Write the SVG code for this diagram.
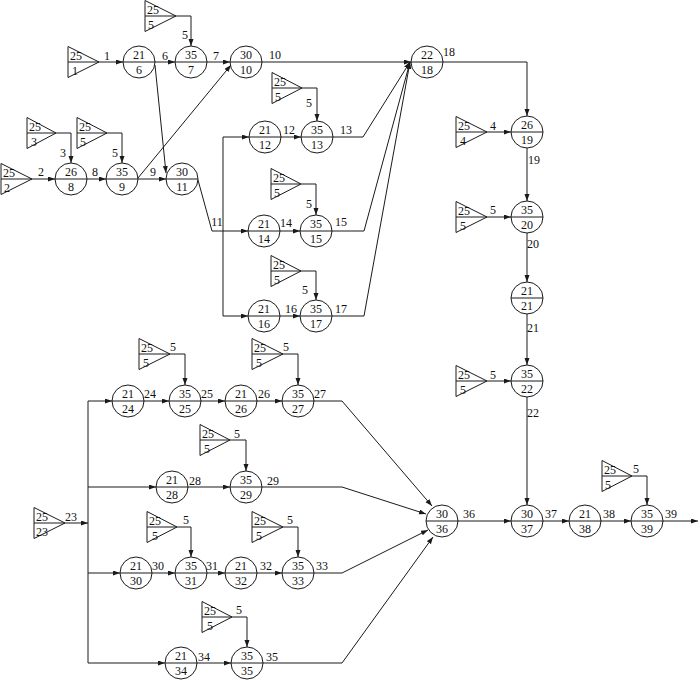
<svg xmlns="http://www.w3.org/2000/svg" width="700" height="680" viewBox="0 0 700 680">
<style>
.bg{fill:#fff}
.c{fill:#fff;stroke:#1a1a1a;stroke-width:1}
.d{stroke:#1a1a1a;stroke-width:1;fill:none}
.t{fill:#fff;stroke:#1a1a1a;stroke-width:1}
.ln{stroke:#1a1a1a;stroke-width:1;fill:none}
.arr{marker-end:url(#ah)}
text{font-family:"Liberation Serif","Times New Roman",serif;font-size:12px;fill:#111}
.m{text-anchor:middle}
</style>
<defs>
<marker id="ah" markerUnits="userSpaceOnUse" markerWidth="8" markerHeight="6" refX="7" refY="2.5" orient="auto">
<path d="M0,0 L7,2.5 L0,5 z" fill="#1a1a1a"/>
</marker>
</defs>
<rect class="bg" x="0" y="0" width="700" height="680"/>

<g id="connectors">
<!-- top row -->
<line class="ln arr" x1="99" y1="62" x2="123" y2="62"/>
<line class="ln arr" x1="155" y1="62" x2="175" y2="62"/>
<line class="ln arr" x1="207" y1="62" x2="230" y2="62"/>
<line class="ln arr" x1="262" y1="62" x2="411" y2="62"/>
<polyline class="ln arr" points="176,16 191,16 191,46"/>
<polyline class="ln arr" points="443,62 527,62 527,116"/>
<line class="ln arr" x1="155" y1="65" x2="166" y2="173"/>
<!-- second row -->
<line class="ln arr" x1="32" y1="179" x2="55" y2="179"/>
<polyline class="ln arr" points="56,133 71,133 71,163"/>
<line class="ln arr" x1="87" y1="179" x2="106" y2="179"/>
<polyline class="ln arr" points="107,133 122,133 122,163"/>
<line class="ln arr" x1="138" y1="179" x2="166" y2="179"/>
<line class="ln arr" x1="138" y1="178" x2="231" y2="65"/>
<polyline class="ln arr" points="198,180 212,231 248,231"/>
<line class="ln" x1="223" y1="137" x2="223" y2="316"/>
<line class="ln arr" x1="223" y1="137" x2="249" y2="137"/>
<line class="ln arr" x1="223" y1="316" x2="248" y2="316"/>
<line class="ln arr" x1="281" y1="137" x2="301" y2="137"/>
<polyline class="ln arr" points="302,88 317,88 317,121"/>
<polyline class="ln arr" points="333,137 363,137 410,62"/>
<line class="ln arr" x1="280" y1="231" x2="300" y2="231"/>
<polyline class="ln arr" points="301,184 316,184 316,215"/>
<polyline class="ln arr" points="332,231 364,231 410,62"/>
<line class="ln arr" x1="280" y1="316" x2="300" y2="316"/>
<polyline class="ln arr" points="301,271 316,271 316,300"/>
<polyline class="ln arr" points="332,316 364,316 410,62"/>
<!-- right column -->
<line class="ln arr" x1="487" y1="132" x2="511" y2="132"/>
<line class="ln arr" x1="527" y1="148" x2="527" y2="201"/>
<line class="ln arr" x1="487" y1="217" x2="511" y2="217"/>
<line class="ln arr" x1="527" y1="233" x2="527" y2="282"/>
<line class="ln arr" x1="527" y1="314" x2="527" y2="365"/>
<line class="ln arr" x1="487" y1="381" x2="511" y2="381"/>
<line class="ln arr" x1="527" y1="397" x2="527" y2="505"/>
<line class="ln arr" x1="458" y1="521" x2="511" y2="521"/>
<line class="ln arr" x1="543" y1="521" x2="569" y2="521"/>
<line class="ln arr" x1="601" y1="521" x2="631" y2="521"/>
<polyline class="ln arr" points="632,476 647,476 647,505"/>
<line class="ln arr" x1="663" y1="521" x2="698" y2="521"/>
<!-- bottom block -->
<line class="ln arr" x1="65" y1="523" x2="88" y2="523"/>
<line class="ln" x1="88" y1="401" x2="88" y2="663"/>
<line class="ln arr" x1="88" y1="401" x2="112" y2="401"/>
<line class="ln arr" x1="88" y1="487" x2="156" y2="487"/>
<line class="ln arr" x1="88" y1="573" x2="120" y2="573"/>
<line class="ln arr" x1="88" y1="663" x2="165" y2="663"/>
<line class="ln arr" x1="144" y1="401" x2="169" y2="401"/>
<polyline class="ln arr" points="170,354 185,354 185,385"/>
<line class="ln arr" x1="201" y1="401" x2="225" y2="401"/>
<line class="ln arr" x1="257" y1="401" x2="282" y2="401"/>
<polyline class="ln arr" points="283,354 298,354 298,385"/>
<polyline class="ln arr" points="314,401 342,401 432,506"/>
<line class="ln arr" x1="188" y1="487" x2="230" y2="487"/>
<polyline class="ln arr" points="230,440 246,440 246,471"/>
<polyline class="ln arr" points="262,487 342,487 426,514"/>
<line class="ln arr" x1="152" y1="573" x2="175" y2="573"/>
<polyline class="ln arr" points="177,527 191,527 191,557"/>
<line class="ln arr" x1="207" y1="573" x2="225" y2="573"/>
<line class="ln arr" x1="257" y1="573" x2="282" y2="573"/>
<polyline class="ln arr" points="283,527 298,527 298,557"/>
<polyline class="ln arr" points="314,573 342,573 428,530"/>
<line class="ln arr" x1="197" y1="663" x2="231" y2="663"/>
<polyline class="ln arr" points="232,617 247,617 247,647"/>
<polyline class="ln arr" points="263,663 342,663 433,537"/>
<!-- labels -->
<text class="m" x="107" y="60">1</text>
<text class="m" x="165" y="60">6</text>
<text class="m" x="216" y="60">7</text>
<text class="m" x="185" y="39">5</text>
<text class="m" x="275" y="59">10</text>
<text class="m" x="449" y="56">18</text>
<text class="m" x="41" y="176">2</text>
<text class="m" x="63" y="157">3</text>
<text class="m" x="95" y="176">8</text>
<text class="m" x="115" y="157">5</text>
<text class="m" x="153" y="176">9</text>
<text class="m" x="217" y="226">11</text>
<text class="m" x="289" y="134">12</text>
<text class="m" x="309" y="107">5</text>
<text class="m" x="346" y="134">13</text>
<text class="m" x="286" y="227">14</text>
<text class="m" x="309" y="208">5</text>
<text class="m" x="341" y="226">15</text>
<text class="m" x="291" y="313">16</text>
<text class="m" x="305" y="294">5</text>
<text class="m" x="341" y="313">17</text>
<text class="m" x="493" y="130">4</text>
<text class="m" x="534" y="164">19</text>
<text class="m" x="493" y="214">5</text>
<text class="m" x="533" y="248">20</text>
<text class="m" x="533" y="332">21</text>
<text class="m" x="493" y="379">5</text>
<text class="m" x="533" y="417">22</text>
<text class="m" x="469" y="518">36</text>
<text class="m" x="551" y="518">37</text>
<text class="m" x="609" y="518">38</text>
<text class="m" x="636" y="473">5</text>
<text class="m" x="671" y="518">39</text>
<text class="m" x="71" y="521">23</text>
<text class="m" x="150" y="398">24</text>
<text class="m" x="173" y="351">5</text>
<text class="m" x="207" y="398">25</text>
<text class="m" x="264" y="398">26</text>
<text class="m" x="286" y="351">5</text>
<text class="m" x="320" y="398">27</text>
<text class="m" x="195" y="485">28</text>
<text class="m" x="237" y="438">5</text>
<text class="m" x="273" y="485">29</text>
<text class="m" x="158" y="570">30</text>
<text class="m" x="186" y="524">5</text>
<text class="m" x="212" y="570">31</text>
<text class="m" x="266" y="570">32</text>
<text class="m" x="290" y="524">5</text>
<text class="m" x="322" y="570">33</text>
<text class="m" x="204" y="661">34</text>
<text class="m" x="239" y="614">5</text>
<text class="m" x="272" y="661">35</text>
</g>

<!-- triangle nodes -->
<g id="t1"><polygon class="t" points="68,46.5 68,77.5 99,62"/><line class="d" x1="68" y1="62" x2="99" y2="62"/><text x="70" y="60">25</text><text x="72" y="75">1</text></g>
<g id="t7"><polygon class="t" points="145,0.5 145,31.5 176,16"/><line class="d" x1="145" y1="16" x2="176" y2="16"/><text x="147" y="14">25</text><text x="148" y="29">5</text></g>
<g id="t2"><polygon class="t" points="1,163.5 1,194.5 32,179"/><line class="d" x1="1" y1="179" x2="32" y2="179"/><text x="3" y="177">25</text><text x="4" y="192">2</text></g>
<g id="t3"><polygon class="t" points="27,117.5 27,148.5 56,133"/><line class="d" x1="27" y1="133" x2="56" y2="133"/><text x="29" y="131">25</text><text x="31" y="146">3</text></g>
<g id="t9"><polygon class="t" points="77,117.5 77,148.5 107,133"/><line class="d" x1="77" y1="133" x2="107" y2="133"/><text x="79" y="131">25</text><text x="80" y="146">5</text></g>
<g id="t13"><polygon class="t" points="272,72.5 272,103.5 302,88"/><line class="d" x1="272" y1="88" x2="302" y2="88"/><text x="274" y="86">25</text><text x="275" y="101">5</text></g>
<g id="t15"><polygon class="t" points="271,168.5 271,199.5 301,184"/><line class="d" x1="271" y1="184" x2="301" y2="184"/><text x="273" y="182">25</text><text x="274" y="197">5</text></g>
<g id="t17"><polygon class="t" points="271,255.5 271,286.5 301,271"/><line class="d" x1="271" y1="271" x2="301" y2="271"/><text x="273" y="269">25</text><text x="274" y="284">5</text></g>
<g id="t19"><polygon class="t" points="456,116.5 456,147.5 487,132"/><line class="d" x1="456" y1="132" x2="487" y2="132"/><text x="458" y="130">25</text><text x="460" y="145">4</text></g>
<g id="t20"><polygon class="t" points="456,201.5 456,232.5 487,217"/><line class="d" x1="456" y1="217" x2="487" y2="217"/><text x="458" y="215">25</text><text x="460" y="230">5</text></g>
<g id="t22"><polygon class="t" points="456,365.5 456,396.5 487,381"/><line class="d" x1="456" y1="381" x2="487" y2="381"/><text x="458" y="379">25</text><text x="460" y="394">5</text></g>
<g id="t39"><polygon class="t" points="602,460.5 602,491.5 632,476"/><line class="d" x1="602" y1="476" x2="632" y2="476"/><text x="604" y="474">25</text><text x="605" y="489">5</text></g>
<g id="t23"><polygon class="t" points="34,507.5 34,538.5 65,523"/><line class="d" x1="34" y1="523" x2="65" y2="523"/><text x="36" y="521">25</text><text x="36" y="536">23</text></g>
<g id="t25"><polygon class="t" points="139,338.5 139,369.5 170,354"/><line class="d" x1="139" y1="354" x2="170" y2="354"/><text x="141" y="352">25</text><text x="143" y="367">5</text></g>
<g id="t27"><polygon class="t" points="252,338.5 252,369.5 283,354"/><line class="d" x1="252" y1="354" x2="283" y2="354"/><text x="254" y="352">25</text><text x="256" y="367">5</text></g>
<g id="t29"><polygon class="t" points="200,424.5 200,455.5 230,440"/><line class="d" x1="200" y1="440" x2="230" y2="440"/><text x="202" y="438">25</text><text x="204" y="453">5</text></g>
<g id="t31"><polygon class="t" points="147,511.5 147,542.5 177,527"/><line class="d" x1="147" y1="527" x2="177" y2="527"/><text x="149" y="525">25</text><text x="152" y="540">5</text></g>
<g id="t33"><polygon class="t" points="252,511.5 252,542.5 283,527"/><line class="d" x1="252" y1="527" x2="283" y2="527"/><text x="254" y="525">25</text><text x="256" y="540">5</text></g>
<g id="t35"><polygon class="t" points="202,601.5 202,632.5 232,617"/><line class="d" x1="202" y1="617" x2="232" y2="617"/><text x="204" y="615">25</text><text x="207" y="630">5</text></g>

<!-- circle nodes -->
<g id="n6"><circle class="c" cx="139" cy="62" r="16"/><line class="d" x1="123" y1="62" x2="155" y2="62"/><text class="m" x="139" y="59">21</text><text class="m" x="139" y="74">6</text></g>
<g id="n7"><circle class="c" cx="191" cy="62" r="16"/><line class="d" x1="175" y1="62" x2="207" y2="62"/><text class="m" x="191" y="59">35</text><text class="m" x="191" y="74">7</text></g>
<g id="n10"><circle class="c" cx="246" cy="62" r="16"/><line class="d" x1="230" y1="62" x2="262" y2="62"/><text class="m" x="246" y="59">30</text><text class="m" x="246" y="74">10</text></g>
<g id="n18"><circle class="c" cx="427" cy="62" r="16"/><line class="d" x1="411" y1="62" x2="443" y2="62"/><text class="m" x="427" y="59">22</text><text class="m" x="427" y="74">18</text></g>
<g id="n8"><circle class="c" cx="71" cy="179" r="16"/><line class="d" x1="55" y1="179" x2="87" y2="179"/><text class="m" x="71" y="176">26</text><text class="m" x="71" y="191">8</text></g>
<g id="n9"><circle class="c" cx="122" cy="179" r="16"/><line class="d" x1="106" y1="179" x2="138" y2="179"/><text class="m" x="122" y="176">35</text><text class="m" x="122" y="191">9</text></g>
<g id="n11"><circle class="c" cx="182" cy="179" r="16"/><line class="d" x1="166" y1="179" x2="198" y2="179"/><text class="m" x="182" y="176">30</text><text class="m" x="182" y="191">11</text></g>
<g id="n12"><circle class="c" cx="265" cy="137" r="16"/><line class="d" x1="249" y1="137" x2="281" y2="137"/><text class="m" x="265" y="134">21</text><text class="m" x="265" y="149">12</text></g>
<g id="n13"><circle class="c" cx="317" cy="137" r="16"/><line class="d" x1="301" y1="137" x2="333" y2="137"/><text class="m" x="317" y="134">35</text><text class="m" x="317" y="149">13</text></g>
<g id="n14"><circle class="c" cx="264" cy="231" r="16"/><line class="d" x1="248" y1="231" x2="280" y2="231"/><text class="m" x="264" y="228">21</text><text class="m" x="264" y="243">14</text></g>
<g id="n15"><circle class="c" cx="316" cy="231" r="16"/><line class="d" x1="300" y1="231" x2="332" y2="231"/><text class="m" x="316" y="228">35</text><text class="m" x="316" y="243">15</text></g>
<g id="n16"><circle class="c" cx="264" cy="316" r="16"/><line class="d" x1="248" y1="316" x2="280" y2="316"/><text class="m" x="264" y="313">21</text><text class="m" x="264" y="328">16</text></g>
<g id="n17"><circle class="c" cx="316" cy="316" r="16"/><line class="d" x1="300" y1="316" x2="332" y2="316"/><text class="m" x="316" y="313">35</text><text class="m" x="316" y="328">17</text></g>
<g id="n19"><circle class="c" cx="527" cy="132" r="16"/><line class="d" x1="511" y1="132" x2="543" y2="132"/><text class="m" x="527" y="129">26</text><text class="m" x="527" y="144">19</text></g>
<g id="n20"><circle class="c" cx="527" cy="217" r="16"/><line class="d" x1="511" y1="217" x2="543" y2="217"/><text class="m" x="527" y="214">35</text><text class="m" x="527" y="229">20</text></g>
<g id="n21"><circle class="c" cx="527" cy="298" r="16"/><line class="d" x1="511" y1="298" x2="543" y2="298"/><text class="m" x="527" y="295">21</text><text class="m" x="527" y="310">21</text></g>
<g id="n22"><circle class="c" cx="527" cy="381" r="16"/><line class="d" x1="511" y1="381" x2="543" y2="381"/><text class="m" x="527" y="378">35</text><text class="m" x="527" y="393">22</text></g>
<g id="n36"><circle class="c" cx="442" cy="521" r="16"/><line class="d" x1="426" y1="521" x2="458" y2="521"/><text class="m" x="442" y="518">30</text><text class="m" x="442" y="533">36</text></g>
<g id="n37"><circle class="c" cx="527" cy="521" r="16"/><line class="d" x1="511" y1="521" x2="543" y2="521"/><text class="m" x="527" y="518">30</text><text class="m" x="527" y="533">37</text></g>
<g id="n38"><circle class="c" cx="585" cy="521" r="16"/><line class="d" x1="569" y1="521" x2="601" y2="521"/><text class="m" x="585" y="518">21</text><text class="m" x="585" y="533">38</text></g>
<g id="n39"><circle class="c" cx="647" cy="521" r="16"/><line class="d" x1="631" y1="521" x2="663" y2="521"/><text class="m" x="647" y="518">35</text><text class="m" x="647" y="533">39</text></g>
<g id="n24"><circle class="c" cx="128" cy="401" r="16"/><line class="d" x1="112" y1="401" x2="144" y2="401"/><text class="m" x="128" y="398">21</text><text class="m" x="128" y="413">24</text></g>
<g id="n25"><circle class="c" cx="185" cy="401" r="16"/><line class="d" x1="169" y1="401" x2="201" y2="401"/><text class="m" x="185" y="398">35</text><text class="m" x="185" y="413">25</text></g>
<g id="n26"><circle class="c" cx="241" cy="401" r="16"/><line class="d" x1="225" y1="401" x2="257" y2="401"/><text class="m" x="241" y="398">21</text><text class="m" x="241" y="413">26</text></g>
<g id="n27"><circle class="c" cx="298" cy="401" r="16"/><line class="d" x1="282" y1="401" x2="314" y2="401"/><text class="m" x="298" y="398">35</text><text class="m" x="298" y="413">27</text></g>
<g id="n28"><circle class="c" cx="172" cy="487" r="16"/><line class="d" x1="156" y1="487" x2="188" y2="487"/><text class="m" x="172" y="484">21</text><text class="m" x="172" y="499">28</text></g>
<g id="n29"><circle class="c" cx="246" cy="487" r="16"/><line class="d" x1="230" y1="487" x2="262" y2="487"/><text class="m" x="246" y="484">35</text><text class="m" x="246" y="499">29</text></g>
<g id="n30"><circle class="c" cx="136" cy="573" r="16"/><line class="d" x1="120" y1="573" x2="152" y2="573"/><text class="m" x="136" y="570">21</text><text class="m" x="136" y="585">30</text></g>
<g id="n31"><circle class="c" cx="191" cy="573" r="16"/><line class="d" x1="175" y1="573" x2="207" y2="573"/><text class="m" x="191" y="570">35</text><text class="m" x="191" y="585">31</text></g>
<g id="n32"><circle class="c" cx="241" cy="573" r="16"/><line class="d" x1="225" y1="573" x2="257" y2="573"/><text class="m" x="241" y="570">21</text><text class="m" x="241" y="585">32</text></g>
<g id="n33"><circle class="c" cx="298" cy="573" r="16"/><line class="d" x1="282" y1="573" x2="314" y2="573"/><text class="m" x="298" y="570">35</text><text class="m" x="298" y="585">33</text></g>
<g id="n34"><circle class="c" cx="181" cy="663" r="16"/><line class="d" x1="165" y1="663" x2="197" y2="663"/><text class="m" x="181" y="660">21</text><text class="m" x="181" y="675">34</text></g>
<g id="n35"><circle class="c" cx="247" cy="663" r="16"/><line class="d" x1="231" y1="663" x2="263" y2="663"/><text class="m" x="247" y="660">35</text><text class="m" x="247" y="675">35</text></g>
</svg>
